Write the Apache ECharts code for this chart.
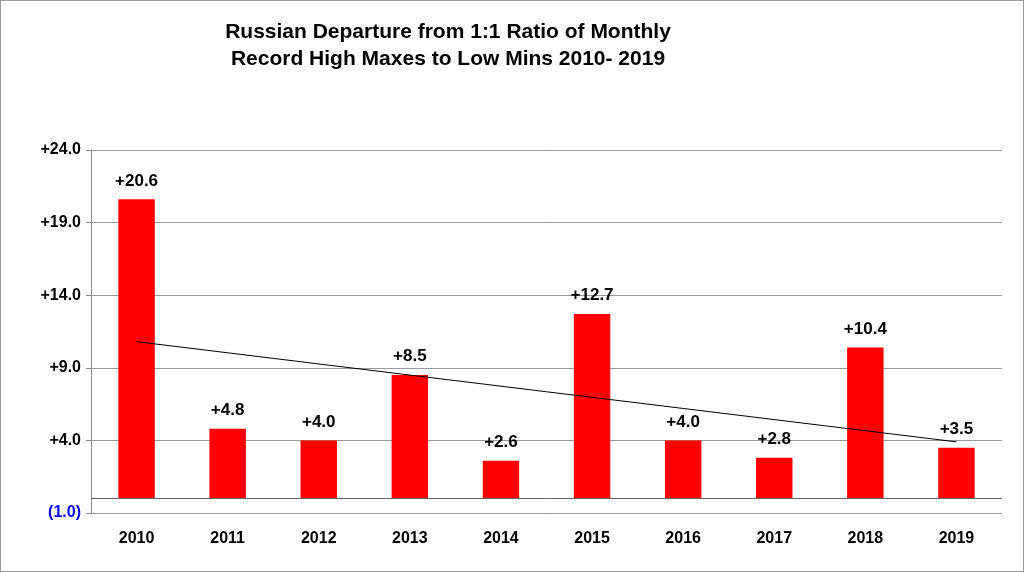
<!DOCTYPE html>
<html>
<head>
<meta charset="utf-8">
<script src="https://cdn.jsdelivr.net/npm/echarts@6/dist/echarts.min.js"></script>
<style>
html, body { margin: 0; padding: 0; background: #fff; }
#chart { width: 1022px; height: 570px; border: 1px solid #999; }
</style>
</head>
<body>
<div id="chart"></div>
<script>
const years = ['2010', '2011', '2012', '2013', '2014', '2015', '2016', '2017', '2018', '2019'];
const departures = [20.6, 4.8, 4.0, 8.5, 2.6, 12.7, 4.0, 2.8, 10.4, 3.5];
// trend line end points
const trend = [10.8, null, null, null, null, null, null, null, null, 3.9];

const chart = echarts.init(document.getElementById('chart'));

chart.setOption({
    animation: false,
    title: {
        text: 'Russian Departure from 1:1 Ratio of Monthly\nRecord High Maxes to Low Mins 2010- 2019',
        left: 442,
        top: 13,
        textAlign: 'center',
        textStyle: { fontFamily: 'Liberation Sans', fontSize: 21, fontWeight: 'bold', lineHeight: 27, color: '#000' }
    },
    grid: { left: 90, right: 21, top: 149, bottom: 58 },
    xAxis: {
        type: 'category',
        data: years,
        axisLine: { show: false },
        axisTick: { show: false },
        axisLabel: { fontFamily: 'Liberation Sans', fontSize: 16, fontWeight: 'bold', color: '#000', margin: 18 }
    },
    yAxis: {
        type: 'value',
        min: -1,
        max: 24,
        interval: 5,
        axisLine: { show: true, lineStyle: { color: '#888' } },
        axisTick: { show: true, length: 5, lineStyle: { color: '#888' } },
        splitLine: { lineStyle: { color: '#999' } },
        axisLabel: {
            fontFamily: 'Liberation Sans', fontSize: 16, fontWeight: 'bold', margin: 10,
            formatter: v => v < 0 ? '{neg|(' + Math.abs(v).toFixed(1) + ')}' : '+' + v.toFixed(1),
            color: '#000',
            rich: { neg: { color: '#0000ff', fontFamily: 'Liberation Sans', fontSize: 16, fontWeight: 'bold' } }
        }
    },
    series: [
        {
            type: 'bar',
            data: departures,
            barWidth: '40%',
            itemStyle: { color: '#ff0000' },
            label: {
                show: true, position: 'top', distance: 10,
                formatter: p => '+' + p.value.toFixed(1),
                fontFamily: 'Liberation Sans', fontSize: 17, fontWeight: 'bold', color: '#000'
            },
            markLine: {
                silent: true, symbol: 'none', label: { show: false },
                lineStyle: { color: '#666', type: 'solid', width: 1 },
                data: [{ yAxis: 0 }]
            }
        },
        {
            type: 'line',
            data: trend,
            connectNulls: true,
            symbol: 'none',
            lineStyle: { color: '#000', width: 1 }
        }
    ]
});
</script>
</body>
</html>
